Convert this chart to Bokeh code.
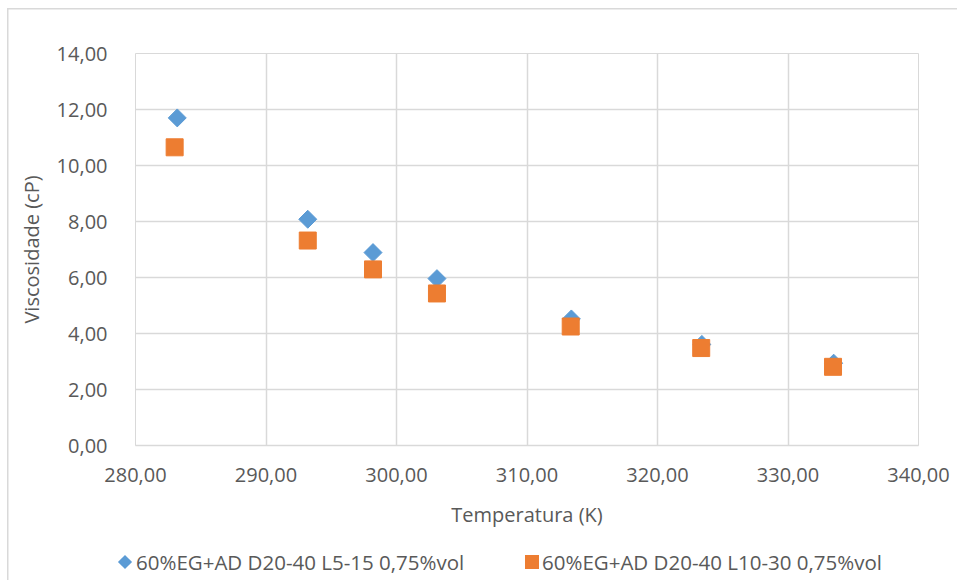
import math
from bokeh.plotting import figure
from bokeh.layouts import column
from bokeh.models import FixedTicker, Range1d, Div
from bokeh.embed import file_html
from bokeh.resources import INLINE

# ---- data ----
temp_a = [283.2, 293.2, 298.2, 303.1, 313.4, 323.4, 333.5]
visc_a = [11.70, 8.08, 6.89, 5.96, 4.52, 3.61, 2.94]
temp_b = [283.0, 293.2, 298.2, 303.1, 313.35, 323.35, 333.45]
visc_b = [10.65, 7.32, 6.29, 5.43, 4.25, 3.48, 2.81]
label_a = "60%EG+AD D20-40 L5-15 0,75%vol"
label_b = "60%EG+AD D20-40 L10-30 0,75%vol"
x_ticks = [280, 290, 300, 310, 320, 330, 340]
x_tick_labels = ["280,00", "290,00", "300,00", "310,00", "320,00", "330,00", "340,00"]
y_ticks = [0, 2, 4, 6, 8, 10, 12, 14]
y_tick_labels = ["0,00", "2,00", "4,00", "6,00", "8,00", "10,00", "12,00", "14,00"]
x_title = "Temperatura (K)"
y_title = "Viscosidade (cP)"

FONT = "Open Sans"
TXT = "#595959"
GRID = "#d9d9d9"
BLUE = "#5B9BD5"
ORANGE = "#ED7D31"
FS = "20px"
W = 950

p = figure(width=W, height=535, output_backend="svg", toolbar_location=None,
           x_range=Range1d(280, 340), y_range=Range1d(0, 14),
           min_border_left=135, min_border_right=32, min_border_top=53,
           min_border_bottom=90)
p.outline_line_color = GRID
p.background_fill_color = "white"
p.border_fill_alpha = 0

p.xaxis.ticker = FixedTicker(ticks=x_ticks)
p.yaxis.ticker = FixedTicker(ticks=y_ticks)
p.xaxis.major_label_overrides = {t: l for t, l in zip(x_ticks, x_tick_labels)}
p.yaxis.major_label_overrides = {t: l for t, l in zip(y_ticks, y_tick_labels)}

for ax in (p.xaxis, p.yaxis):
    ax.major_tick_line_color = None
    ax.minor_tick_line_color = None
    ax.major_label_text_font = FONT
    ax.major_label_text_font_size = FS
    ax.major_label_text_color = TXT
    ax.axis_label_text_font = FONT
    ax.axis_label_text_font_size = FS
    ax.axis_label_text_color = TXT
    ax.axis_label_text_font_style = "normal"
p.xaxis.axis_line_color = GRID
p.xaxis.axis_line_width = 1.5
p.yaxis.axis_line_color = None
p.xaxis.major_label_standoff = 16
p.yaxis.major_label_standoff = 22
p.xaxis.axis_label_standoff = 16
p.yaxis.axis_label_standoff = 9
p.xaxis.axis_label = x_title
p.yaxis.axis_label = y_title

p.grid.grid_line_color = GRID
p.grid.grid_line_width = 1.5

p.scatter(temp_a, visc_a, marker="square", angle=math.pi / 4, size=12.7,
          fill_color=BLUE, line_color=BLUE)
p.scatter(temp_b, visc_b, marker="square", size=17,
          fill_color=ORANGE, line_color=ORANGE)

# ---- legend strip ----
legend_html = f"""
<div style="position:relative;width:{W}px;height:45px;font-family:'{FONT}';font-size:20.5px;color:{TXT};white-space:nowrap;">
  <span style="position:absolute;left:115px;top:17px;width:10px;height:10px;background:{BLUE};transform:rotate(45deg);"></span>
  <span style="position:absolute;left:131px;top:0;line-height:44px;">{label_a}</span>
  <span style="position:absolute;left:520px;top:15px;width:14px;height:14px;background:{ORANGE};"></span>
  <span style="position:absolute;left:537px;top:0;line-height:44px;">{label_b}</span>
</div>
"""
lg = Div(text=legend_html, width=W, height=45)

layout = column(p, lg, spacing=0)
layout.styles = {
    "background-color": "white",
    "background-image": "linear-gradient(#d9d9d9, #d9d9d9), linear-gradient(#d9d9d9, #d9d9d9)",
    "background-size": "1.5px 100%, 100% 1.5px",
    "background-position": "7px 8px, 7px 8px",
    "background-repeat": "no-repeat",
}
open("out.html", "w").write(file_html(layout, INLINE))
